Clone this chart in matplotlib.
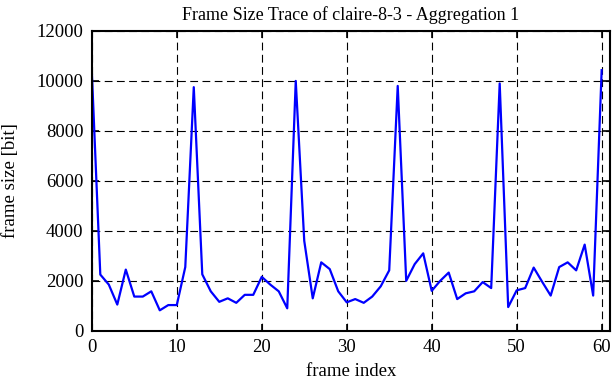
import matplotlib
matplotlib.use('Agg')
import matplotlib.pyplot as plt

# frame index and frame size [bit]
frame_index = list(range(61))
frame_size = [
    10400, 2250, 1850, 1050, 2450, 1370, 1370, 1580, 820, 1030,
    1030, 2550, 9750, 2260, 1580, 1160, 1300, 1120, 1440, 1440,
    2160, 1850, 1580, 900, 10000, 3600, 1300, 2740, 2470, 1580,
    1140, 1270, 1120, 1370, 1780, 2420, 9800, 2000, 2670, 3100,
    1600, 2000, 2330, 1270, 1500, 1580, 1950, 1710, 9900, 950,
    1620, 1710, 2530, 1960, 1410, 2550, 2740, 2420, 3450, 1410,
    10430,
]

xticks = [0, 10, 20, 30, 40, 50, 60]
yticks = [0, 2000, 4000, 6000, 8000, 10000, 12000]

plt.rcParams['font.family'] = ['Liberation Serif', 'DejaVu Serif']

fig = plt.figure(figsize=(6.12, 3.82), dpi=100)
ax = fig.add_axes([0.15, 0.134, 0.847, 0.785])

ax.plot(frame_index, frame_size, color='#0000ff', linewidth=1.6)

ax.set_xlim(0, 61)
ax.set_ylim(0, 12000)
ax.set_xticks(xticks)
ax.set_yticks(yticks)
ax.grid(True, color='black', linestyle=(0, (7, 4)), linewidth=0.8)

ax.tick_params(direction='in', length=5, width=1.2, top=True, right=True,
               labelsize=13.5, pad=6)
for sp in ax.spines.values():
    sp.set_linewidth(1.5)

ax.set_xlabel('frame index', fontsize=13.5, labelpad=5)
ax.set_ylabel('frame size [bit]', fontsize=13.5, labelpad=13)
ax.set_title('Frame Size Trace of claire-8-3 - Aggregation 1', fontsize=13, pad=8)

fig.savefig('out.png', dpi=100)
